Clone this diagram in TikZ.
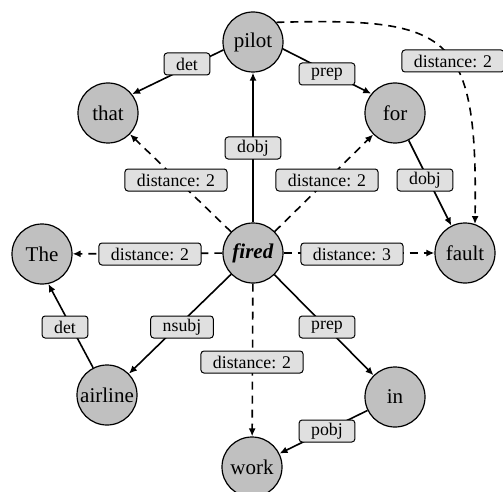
\documentclass[tikz,border=0pt]{standalone}
\usepackage{fontspec}
\setmainfont{Liberation Serif}
\usetikzlibrary{arrows.meta}
\definecolor{nodegray}{HTML}{C0C0C0}
\definecolor{labelgray}{HTML}{E0E0E0}
\tikzset{
  word/.style={circle, draw, line width=0.6pt, fill=nodegray, minimum size=30pt, inner sep=0pt, font=\fontsize{10.5}{12}\selectfont},
  rel/.style={draw, line width=0.5pt, fill=labelgray, rounded corners=1.5pt, minimum height=11pt, inner xsep=6pt, inner ysep=0pt, font=\fontsize{8.9}{10}\selectfont},
  dep/.style={line width=0.8pt, -{Latex[length=4pt,width=3.5pt]}},
  dist/.style={dep, dash pattern=on 4pt off 3pt}
}
\begin{document}
\begin{tikzpicture}[x=0.5pt,y=-0.5pt]
\useasboundingbox (0,0) rectangle (503,492);
% words
\node[word] (pilot) at (253,42) {pilot};
\node[word] (that) at (108,113) {that};
\node[word] (for) at (395,113) {for};
\node[word] (The) at (42,254) {The};
\node[word] (fired) at (253,253) {\textbf{\textit{fired}}};
\node[word] (fault) at (465,253) {fault};
\node[word] (airline) at (107,395) {airline};
\node[word] (in) at (395,397) {in};
\node[word] (work) at (252,467) {work};
% connectors
\draw[dep] (pilot.195) -- (that.38);
\draw[dep] (pilot.-13) -- (for.141);
\draw[dep] (fired) -- (pilot);
\draw[dep] (for) -- (fault);
\draw[dep] (airline.117) -- (The.282);
\draw[dep] (fired) -- (airline);
\draw[dep] (fired) -- (in);
\draw[dep] (in) -- (work);
\draw[dist] (fired) -- (that);
\draw[dist] (fired) -- (for);
\draw[dist] (fired) -- (The);
\draw[dist] (fired) -- (fault);
\draw[dist] (fired) -- (work);
\draw[dist] (pilot.40) .. controls (450,18) and (478,30) .. (fault.71);
% labels
\node[rel] (l1) at (187,64) {det};
\node[rel] (l2) at (327,74) {prep};
\node[rel] (l3) at (253,148) {dobj};
\node[rel] (l4) at (176,180) {distance: 2};
\node[rel] (l5) at (327,180) {distance: 2};
\node[rel] (l6) at (425,180) {dobj};
\node[rel] (l7) at (453,61) {distance: 2};
\node[rel] (l8) at (150,254) {distance: 2};
\node[rel] (l9) at (352,254) {distance: 3};
\node[rel] (l10) at (65,327) {det};
\node[rel] (l11) at (182,327) {nsubj};
\node[rel] (l12) at (327,327) {prep};
\node[rel] (l13) at (252,362) {distance: 2};
\node[rel] (l14) at (327,431) {pobj};
\end{tikzpicture}
\end{document}
